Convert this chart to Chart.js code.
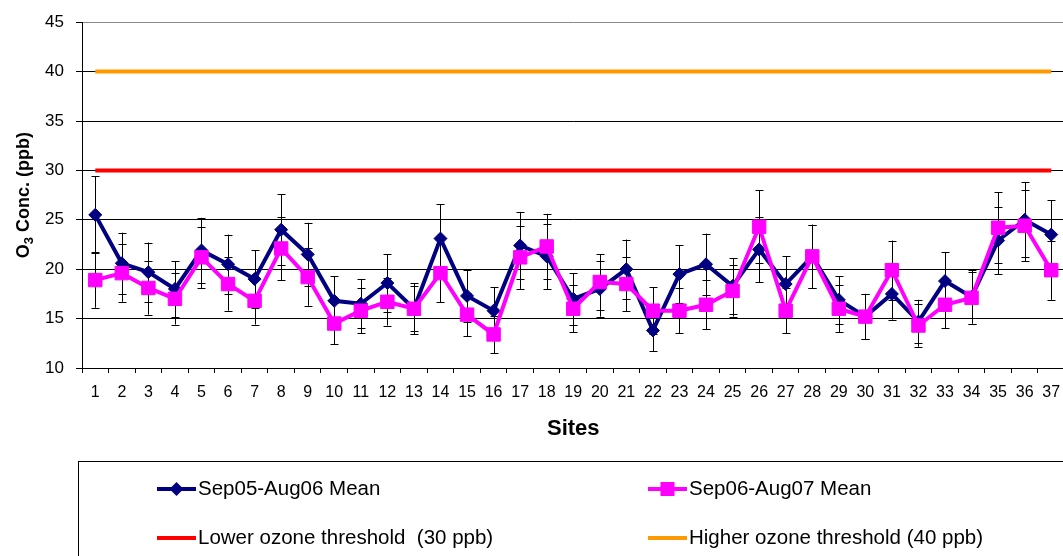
<!DOCTYPE html>
<html>
<head>
<meta charset="utf-8">
<script src="https://cdn.jsdelivr.net/npm/chart.js@4/dist/chart.umd.min.js"></script>
<style>
  html, body { margin: 0; padding: 0; background: #fff; overflow: hidden; }
  #wrap { position: absolute; left: 0; top: 0; }
</style>
</head>
<body>
<div id="wrap"><canvas id="chart" width="1075" height="580"></canvas></div>
<script>
var sites = ["1","2","3","4","5","6","7","8","9","10","11","12","13","14","15","16","17","18","19",
  "20","21","22","23","24","25","26","27","28","29","30","31","32","33","34","35","36","37"];

// Sep05-Aug06 mean and error
var mean0506 = [25.5, 20.6, 19.7, 18.0, 21.9, 20.5, 19.0, 24.0, 21.5, 16.8, 16.5, 18.6, 16.0, 23.1, 17.3, 15.8, 22.4, 21.3, 17.0,
  18.0, 20.0, 13.8, 19.5, 20.5, 18.3, 22.0, 18.5, 21.3, 16.9, 15.2, 17.5, 14.7, 18.8, 17.2, 22.9, 25.0, 23.5];
var err0506 = [3.9, 3.1, 3.0, 2.8, 3.3, 3.0, 2.9, 3.6, 3.2, 2.5, 2.5, 2.9, 2.6, 3.5, 2.6, 2.4, 3.4, 3.3, 2.6,
  2.8, 3.0, 2.1, 2.9, 3.1, 2.8, 3.3, 2.8, 3.2, 2.4, 2.3, 2.6, 2.2, 2.9, 2.7, 3.4, 3.8, 3.5];

// Sep06-Aug07 mean and error
var mean0607 = [18.9, 19.6, 18.1, 17.0, 21.2, 18.5, 16.8, 22.1, 19.2, 14.5, 15.8, 16.7, 16.0, 19.6, 15.4, 13.4, 21.2, 22.3, 16.0,
  18.7, 18.5, 15.8, 15.8, 16.4, 17.8, 24.3, 15.8, 21.3, 16.0, 15.2, 19.9, 14.3, 16.4, 17.1, 24.2, 24.4, 19.9];
var err0607 = [2.8, 2.9, 2.7, 2.6, 3.1, 2.7, 2.4, 3.2, 2.9, 2.1, 2.3, 2.4, 2.3, 2.95, 2.2, 1.9, 3.2, 3.3, 2.4,
  2.8, 2.75, 2.35, 2.3, 2.5, 2.6, 3.7, 2.3, 3.2, 2.4, 2.3, 3.0, 2.15, 2.4, 2.6, 3.6, 3.6, 3.0];

var lowerThreshold = 30;
var higherThreshold = 40;

var yTicks = [10, 15, 20, 25, 30, 35, 40, 45];
var yTitle = ["O", "3", " Conc. (ppb)"]; // O, subscript 3, rest

Chart.defaults.font.family = "'Liberation Sans', Arial, sans-serif";
Chart.defaults.color = "#000";

// error bars, drawn under the markers
var errorBars = {
  id: "errorBars",
  beforeDatasetsDraw: function (chart) {
    var ctx = chart.ctx;
    var yScale = chart.scales.y;
    ctx.save();
    ctx.strokeStyle = "#000";
    ctx.lineWidth = 1;
    chart.data.datasets.forEach(function (ds, i) {
      if (!ds.errors) return;
      var meta = chart.getDatasetMeta(i);
      meta.data.forEach(function (pt, j) {
        var v = ds.data[j];
        var e = ds.errors[j];
        var x = Math.round(pt.x) + 0.5;
        var y1 = yScale.getPixelForValue(v + e);
        var y2 = yScale.getPixelForValue(v - e);
        ctx.beginPath();
        ctx.moveTo(x, y1);
        ctx.lineTo(x, y2);
        ctx.moveTo(x - 4, Math.round(y1) + 0.5);
        ctx.lineTo(x + 4, Math.round(y1) + 0.5);
        ctx.moveTo(x - 4, Math.round(y2) + 0.5);
        ctx.lineTo(x + 4, Math.round(y2) + 0.5);
        ctx.stroke();
      });
    });
    ctx.restore();
  }
};

// y title with a real subscript
var yAxisTitle = {
  id: "yAxisTitle",
  afterDraw: function (chart) {
    var ctx = chart.ctx;
    var area = chart.chartArea;
    var big = "bold 18px 'Liberation Sans', Arial, sans-serif";
    var small = "bold 13px 'Liberation Sans', Arial, sans-serif";
    ctx.save();
    ctx.fillStyle = "#000";
    ctx.textBaseline = "alphabetic";
    ctx.textAlign = "left";
    ctx.font = big;
    var w0 = ctx.measureText(yTitle[0]).width;
    var w2 = ctx.measureText(yTitle[2]).width;
    ctx.font = small;
    var w1 = ctx.measureText(yTitle[1]).width;
    var total = w0 + w1 + w2;
    ctx.translate(29, (area.top + area.bottom) / 2);
    ctx.rotate(-Math.PI / 2);
    var x = -total / 2;
    ctx.font = big;
    ctx.fillText(yTitle[0], x, 0);
    ctx.font = small;
    ctx.fillText(yTitle[1], x + w0, 4);
    ctx.font = big;
    ctx.fillText(yTitle[2], x + w0 + w1, 0);
    ctx.restore();
  }
};

// boxed legend in two columns
var boxLegend = {
  id: "boxLegend",
  afterDraw: function (chart) {
    var ctx = chart.ctx;
    var ds = chart.data.datasets;
    ctx.save();
    ctx.strokeStyle = "#000";
    ctx.lineWidth = 1;
    ctx.strokeRect(78.5, 461.5, 1100, 200);

    var items = [
      { d: ds[0], x: 157, y: 489 },
      { d: ds[1], x: 648, y: 489 },
      { d: ds[2], x: 157, y: 538 },
      { d: ds[3], x: 648, y: 538 }
    ];
    ctx.font = "20.5px 'Liberation Sans', Arial, sans-serif";
    ctx.textBaseline = "middle";
    ctx.textAlign = "left";
    items.forEach(function (it) {
      var c = it.d.borderColor;
      ctx.strokeStyle = c;
      ctx.lineWidth = 4;
      ctx.beginPath();
      ctx.moveTo(it.x, it.y);
      ctx.lineTo(it.x + 39, it.y);
      ctx.stroke();
      var cx = it.x + 19.5;
      ctx.fillStyle = c;
      if (it.d.pointStyle === "rectRot") {
        ctx.beginPath();
        ctx.moveTo(cx, it.y - 7);
        ctx.lineTo(cx + 7, it.y);
        ctx.lineTo(cx, it.y + 7);
        ctx.lineTo(cx - 7, it.y);
        ctx.closePath();
        ctx.fill();
      } else if (it.d.pointStyle === "rect") {
        ctx.fillRect(cx - 7, it.y - 7, 14, 14);
      }
      ctx.fillStyle = "#000";
      ctx.fillText(it.d.label, it.x + 41, it.y);
    });
    ctx.restore();
  }
};

var ctxL = document.getElementById("chart").getContext("2d");
var lineChart = new Chart(ctxL, {
  type: "line",
  data: {
    labels: sites,
    datasets: [
      {
        label: "Sep05-Aug06 Mean",
        data: mean0506,
        errors: err0506,
        borderColor: "#000080",
        backgroundColor: "#000080",
        borderWidth: 4,
        pointStyle: "rectRot",
        pointRadius: 6.5,
        pointBorderWidth: 1,
        order: 2
      },
      {
        label: "Sep06-Aug07 Mean",
        data: mean0607,
        errors: err0607,
        borderColor: "#FF00FF",
        backgroundColor: "#FF00FF",
        borderWidth: 4,
        pointStyle: "rect",
        pointRadius: 9.5,
        pointBorderWidth: 1,
        order: 1
      },
      {
        label: "Lower ozone threshold  (30 ppb)",
        data: [{ x: sites[0], y: lowerThreshold }, { x: sites[sites.length - 1], y: lowerThreshold }],
        borderColor: "#FF0000",
        borderWidth: 4,
        pointRadius: 0,
        order: 3
      },
      {
        label: "Higher ozone threshold (40 ppb)",
        data: [{ x: sites[0], y: higherThreshold }, { x: sites[sites.length - 1], y: higherThreshold }],
        borderColor: "#FF9900",
        borderWidth: 4,
        pointRadius: 0,
        order: 3
      }
    ]
  },
  options: {
    responsive: false,
    animation: false,
    layout: {
      padding: { left: 0, right: 10, top: 20, bottom: 132 }
    },
    elements: {
      line: { tension: 0 }
    },
    plugins: {
      legend: { display: false },
      tooltip: { enabled: false }
    },
    scales: {
      x: {
        type: "category",
        offset: true,
        afterFit: function (scale) { scale.height = 80; },
        grid: {
          offset: true,
          drawOnChartArea: false,
          drawTicks: true,
          tickLength: 5,
          color: "#000"
        },
        border: { color: "#000", width: 1 },
        ticks: {
          autoSkip: false,
          maxRotation: 0,
          padding: 10,
          font: { size: 16 }
        },
        title: {
          display: true,
          text: "Sites",
          font: { size: 22, weight: "bold" },
          padding: { top: 0, bottom: 6 }
        }
      },
      y: {
        min: 10,
        max: 45,
        afterFit: function (scale) { scale.width = 82; },
        afterBuildTicks: function (scale) {
          scale.ticks = yTicks.map(function (v) { return { value: v }; });
        },
        grid: {
          color: function (c) { return c.tick && c.tick.value === 45 ? "#888" : "#000"; },
          tickColor: "#000",
          tickLength: 6
        },
        border: { color: "#000", width: 1 },
        ticks: {
          padding: 12,
          font: { size: 17 }
        },
        title: { display: false }
      }
    }
  },
  plugins: [errorBars, yAxisTitle, boxLegend]
});
</script>
</body>
</html>
